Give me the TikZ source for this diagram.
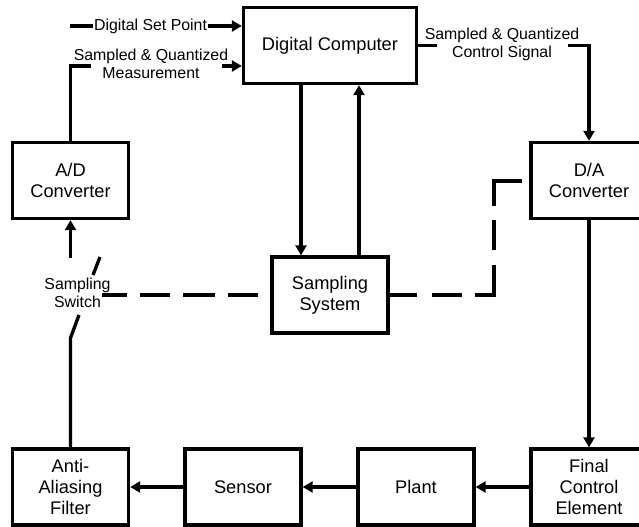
\documentclass[tikz,border=0pt]{standalone}
\usepackage{fontspec}
\setmainfont{Liberation Sans}
\usetikzlibrary{arrows.meta,calc}
\begin{document}
\begin{tikzpicture}[x=0.75pt,y=-0.75pt,
  line width=2.5pt,
  blk/.style={draw,line width=2.5pt,fill=white,minimum width=87pt,minimum height=57pt,
    align=center,font=\fontsize{13.7}{15.5}\selectfont,inner sep=0pt},
  lbl/.style={align=center,font=\fontsize{11.9}{13.5}\selectfont,inner sep=1pt},
  arr/.style={-{Triangle[length=7.5pt,width=8.25pt]}},
  ]
\useasboundingbox (0,0) rectangle (639,527);

% blocks
\node[blk,minimum width=129.75pt] (dc) at (330,45.5) {Digital Computer};
\node[blk] (ad) at (70.5,180.5) {A/D\\Converter};
\node[blk] (da) at (589,180.5) {D/A\\Converter};
\node[blk] (ss) at (330,295) {Sampling\\System};
\node[blk] (aa) at (70.5,487) {Anti-\\Aliasing\\Filter};
\node[blk] (se) at (243,487) {Sensor};
\node[blk] (pl) at (416,487) {Plant};
\node[blk] (fc) at (589,487) {Final\\Control\\Element};

% set point
\coordinate (sp) at (70,26);
\draw[arr] (sp) -- (sp -| dc.west);
\node[lbl,fill=white] (spl) at (150.5,26) {Digital Set Point};

% measurement
\coordinate (m1) at (91,66);
\coordinate (m2) at (222,66);
\draw (ad.north) |- (m1);
\draw[arr] (m2) -- (m2 -| dc.west);
\node[lbl] (ml) at (151,64) {Sampled \& Quantized\\Measurement};

% control signal
\coordinate (c1) at (437,45.5);
\coordinate (c2) at (568,45.5);
\draw (dc.east) -- (c1);
\draw[arr] (c2) -| (da.north);
\node[lbl] (cl) at (502,44) {Sampled \& Quantized\\Control Signal};

% computer <-> sampling system
\draw[arr] ($(dc.south)+(-29,0)$) -- ($(ss.north)+(-29,0)$);
\draw[arr] ($(ss.north)+(29,0)$) -- ($(dc.south)+(29,0)$);

% forward path
\draw[arr] (da.south) -- (fc.north);
\draw[arr] (fc.west) -- (pl.east);
\draw[arr] (pl.west) -- (se.east);
\draw[arr] (se.west) -- (aa.east);

% sampling switch
\coordinate (sw1) at (70.5,338);
\coordinate (swa) at (79,315);
\coordinate (swb) at (93,275);
\coordinate (sw2) at (100,257);
\coordinate (sw3) at (70.5,258);
\draw (aa.north) -- (sw1) -- (swa);
\draw (swb) -- (sw2);
\draw[arr] (sw3) -- (ad.south);
\node[lbl] (swl) at (77.5,292.5) {Sampling\\Switch};

% dashed sampling links
\coordinate (swd) at (102,295);
\draw[dash pattern=on 18.75pt off 9.75pt on 22.5pt off 9.75pt on 24pt off 9.75pt on 22.5pt off 15pt]
  (swd) -- (ss.west);
\coordinate (d1) at (494,295);
\coordinate (d2) at (494,181);
\coordinate (d3) at (522,181);
\draw[dash pattern=on 20.25pt off 11.25pt on 22.5pt off 9.75pt on 36.75pt off 11.25pt on 22.5pt off 10.5pt on 45pt off 10pt]
  (ss.east) -- (d1) -- (d2) -- (d3);
\end{tikzpicture}
\end{document}
